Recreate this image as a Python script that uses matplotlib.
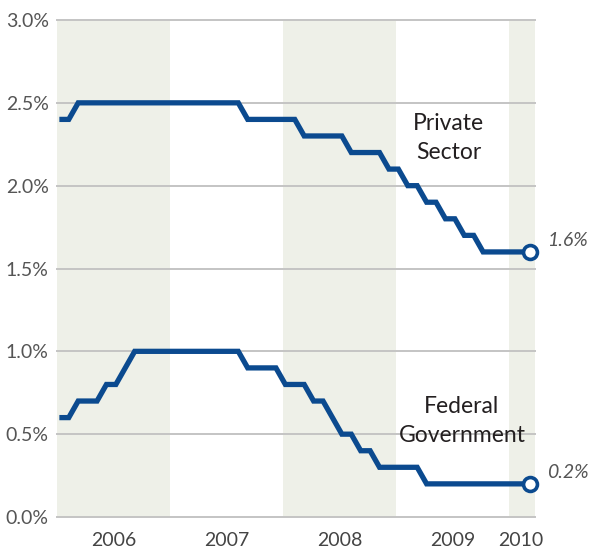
import matplotlib
matplotlib.use("Agg")
import matplotlib.pyplot as plt
import numpy as np

# Monthly data, Jan 2006 .. Mar 2010
private_sector = ([2.4] * 2 + [2.5] * 18 + [2.4] * 6 + [2.3] * 5 + [2.2] * 4 +
                  [2.1] * 2 + [2.0] * 2 + [1.9] * 2 + [1.8] * 2 + [1.7] * 2 + [1.6] * 6)
federal_government = ([0.6] * 2 + [0.7] * 3 + [0.8] * 2 + [0.9] * 1 + [1.0] * 12 +
                      [0.9] * 4 + [0.8] * 3 + [0.7] * 2 + [0.6] * 1 + [0.5] * 2 +
                      [0.4] * 2 + [0.3] * 5 + [0.2] * 12)
years = ["2006", "2007", "2008", "2009", "2010"]
y_ticks = [0.0, 0.5, 1.0, 1.5, 2.0, 2.5, 3.0]

months = np.arange(len(private_sector)) + 0.25

BLUE = "#0b4a8f"
BAND = "#eef0e8"
GRID = "#c4c4c4"
FONT = ["Lato", "DejaVu Sans"]

fig = plt.figure(figsize=(5.92, 5.50), dpi=100)
ax = fig.add_axes([57 / 592, 1 - 517 / 550, (535 - 57) / 592, (517 - 20) / 550])
xmax = 50.76
ax.set_xlim(0, xmax)
ax.set_ylim(0, 3.0)

for start in (0, 24, 48):
    ax.axvspan(start, min(start + 12, xmax), color=BAND, lw=0, zorder=0)

for y in y_ticks:
    ax.axhline(y, color=GRID, lw=1.4, zorder=1, clip_on=False)

for series, label_val in ((private_sector, "1.6%"), (federal_government, "0.2%")):
    ax.plot(months, series, color=BLUE, lw=3.8, zorder=3, solid_joinstyle="miter",
            solid_capstyle="butt", clip_on=False)
    ax.plot(months[-1], series[-1], marker="o", ms=10, mfc="white", mec=BLUE,
            mew=2.6, zorder=4, clip_on=False)
    ax.text(months[-1] + 1.75, series[-1] + 0.07, label_val, fontsize=14,
            style="italic", color="#555555", family=FONT, ha="left", va="center")

ax.text(41.6, 2.287, "Private\nSector", fontsize=16.5, color="#231f20", family=FONT,
        ha="center", va="center", linespacing=1.45)
ax.text(43.0, 0.58, "Federal\nGovernment", fontsize=16.5, color="#231f20", family=FONT,
        ha="center", va="center", linespacing=1.45)

for sp in ax.spines.values():
    sp.set_visible(False)
ax.set_yticks(y_ticks)
ax.set_yticklabels([f"{v:.1f}%" for v in y_ticks], fontsize=14, color="#555555",
                   family=FONT)
ax.set_xticks([6, 18, 30, 42, 49.2])
ax.set_xticklabels(years, fontsize=14, color="#444444", family=FONT)
ax.tick_params(axis="both", length=0)
ax.tick_params(axis="y", pad=6)
ax.tick_params(axis="x", pad=11)

fig.savefig("out.png", dpi=100)
